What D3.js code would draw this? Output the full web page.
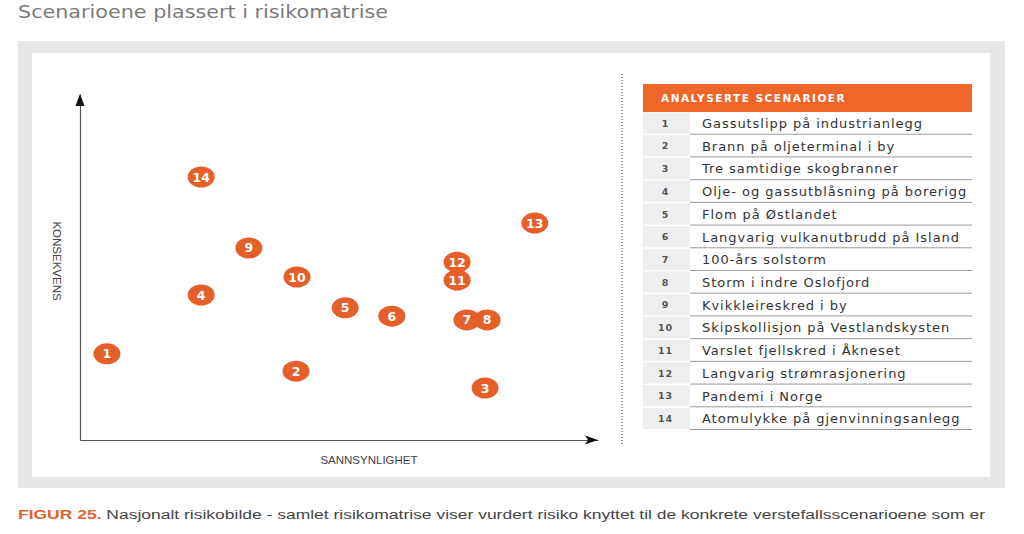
<!DOCTYPE html>
<html>
<head>
<meta charset="utf-8">
<script src="https://cdn.jsdelivr.net/npm/d3@7"></script>
<style>
  html, body { margin: 0; padding: 0; background: #fff; }
  svg { display: block; }
</style>
</head>
<body>
<svg id="chart" width="1024" height="534"></svg>
<script>
const ids = [1,2,3,4,5,6,7,8,9,10,11,12,13,14];
const names = [
  "Gassutslipp på industrianlegg",
  "Brann på oljeterminal i by",
  "Tre samtidige skogbranner",
  "Olje- og gassutblåsning på borerigg",
  "Flom på Østlandet",
  "Langvarig vulkanutbrudd på Island",
  "100-års solstorm",
  "Storm i indre Oslofjord",
  "Kvikkleireskred i by",
  "Skipskollisjon på Vestlandskysten",
  "Varslet fjellskred i Åkneset",
  "Langvarig strømrasjonering",
  "Pandemi i Norge",
  "Atomulykke på gjenvinningsanlegg"
];
// sannsynlighet (x) and konsekvens (y), 0-100 relative scale
const likelihood = [5.2, 41.7, 78.2, 23.4, 51.2, 60.2, 74.7, 78.6, 32.6, 41.9, 72.8, 72.8, 87.8, 23.4];
const consequence = [24.9, 19.9, 15.0, 41.9, 38.2, 35.8, 34.7, 34.7, 55.5, 47.1, 46.2, 51.4, 62.7, 76.0];

const titleText = "Scenarioene plassert i risikomatrise";
const xLabel = "SANNSYNLIGHET";
const yLabel = "KONSEKVENS";
const tableHeader = "ANALYSERTE SCENARIOER";
const captionLead = "FIGUR 25.";
const captionRest = " Nasjonalt risikobilde - samlet risikomatrise viser vurdert risiko knyttet til de konkrete verstefallsscenarioene som er";

const orange = "#e55f2b";
const svg = d3.select("#chart");

// Title
svg.append("text")
  .attr("x", 18).attr("y", 18)
  .attr("font-family", "DejaVu Sans, sans-serif")
  .attr("font-size", 17)
  .attr("fill", "#7a7a7a")
  .attr("textLength", 370).attr("lengthAdjust", "spacingAndGlyphs")
  .text(titleText);

// Frame
svg.append("rect").attr("x", 18).attr("y", 41).attr("width", 987).attr("height", 447).attr("fill", "#e6e7e8");
svg.append("rect").attr("x", 32).attr("y", 53).attr("width", 958).attr("height", 424).attr("fill", "#ffffff");

// Scales
const x = d3.scaleLinear().domain([0, 100]).range([80, 598]);
const y = d3.scaleLinear().domain([0, 100]).range([440, 94]);

// Axes
const axisColor = "#555";
const gx = svg.append("g").attr("transform", `translate(0,${y(0)})`)
  .call(d3.axisBottom(x).ticks(0).tickSizeOuter(0));
const gy = svg.append("g").attr("transform", `translate(${x(0)},0)`)
  .call(d3.axisLeft(y).ticks(0).tickSizeOuter(0));
[gx, gy].forEach(g => {
  g.select(".domain").attr("stroke", axisColor).attr("stroke-width", 1.2);
  g.selectAll(".tick").remove();
});
// Arrowheads
svg.append("path")
  .attr("d", `M${x(100)},${y(0)} L${x(100)-13},${y(0)-4.5} L${x(100)-10},${y(0)} L${x(100)-13},${y(0)+4.5} Z`)
  .attr("fill", "#111");
svg.append("path")
  .attr("d", `M${x(0)},${y(100)} L${x(0)-4.5},${y(100)+12} L${x(0)+4.5},${y(100)+12} Z`)
  .attr("fill", "#111");

// Axis labels
svg.append("text")
  .attr("x", 369).attr("y", 464)
  .attr("text-anchor", "middle")
  .attr("font-family", "Liberation Sans Narrow, Liberation Sans, sans-serif")
  .attr("font-size", 11.5).attr("fill", "#444")
  .text(xLabel);
svg.append("text")
  .attr("transform", "translate(53,261) rotate(90)")
  .attr("text-anchor", "middle")
  .attr("font-family", "Liberation Sans Narrow, Liberation Sans, sans-serif")
  .attr("font-size", 11.5).attr("fill", "#444")
  .text(yLabel);

// Dotted divider
svg.append("line")
  .attr("x1", 622).attr("x2", 622).attr("y1", 74).attr("y2", 445)
  .attr("stroke", "#333").attr("stroke-width", 1).attr("stroke-dasharray", "1,2");

// Bubbles
const pts = ids.map((id, i) => ({id, x: likelihood[i], y: consequence[i]}));
const bub = svg.append("g").selectAll("g").data(pts).join("g")
  .attr("transform", d => `translate(${x(d.x)},${y(d.y)})`);
bub.append("ellipse").attr("rx", 13.5).attr("ry", 10.5).attr("fill", orange);
bub.append("text")
  .attr("text-anchor", "middle").attr("dy", "0.36em")
  .attr("font-family", "DejaVu Sans, sans-serif").attr("font-weight", "bold")
  .attr("font-size", 12.5).attr("fill", "#fff")
  .text(d => d.id);

// Table
const tx0 = 643, tx1 = 972, numW = 47;
svg.append("rect").attr("x", tx0).attr("y", 84).attr("width", tx1 - tx0).attr("height", 28).attr("fill", "#f0662a");
svg.append("text")
  .attr("x", 661).attr("y", 102)
  .attr("font-family", "DejaVu Sans, sans-serif").attr("font-weight", "bold")
  .attr("font-size", 10.5).attr("letter-spacing", 1.5).attr("fill", "#fff")
  .text(tableHeader);

const rowY = d3.scaleBand().domain(ids).range([112, 430]);
const rows = svg.append("g").selectAll("g").data(ids.map((id, i) => ({id, name: names[i]}))).join("g")
  .attr("transform", d => `translate(0,${rowY(d.id)})`);
rows.append("rect")
  .attr("x", tx0).attr("y", 0.5).attr("width", numW).attr("height", rowY.bandwidth() - 1.5)
  .attr("fill", "#eeeef0");
rows.append("line")
  .attr("x1", tx0 + numW).attr("x2", tx1)
  .attr("y1", rowY.bandwidth() - 0.5).attr("y2", rowY.bandwidth() - 0.5)
  .attr("stroke", "#9a9a9a").attr("stroke-width", 1);
rows.append("text")
  .attr("x", tx0 + numW / 2 - 1).attr("y", rowY.bandwidth() / 2).attr("dy", "0.36em")
  .attr("text-anchor", "middle")
  .attr("font-family", "DejaVu Sans, sans-serif").attr("font-weight", "bold")
  .attr("font-size", 9.5).attr("letter-spacing", 0.8).attr("fill", "#555")
  .text(d => d.id);
rows.append("text")
  .attr("x", 702).attr("y", rowY.bandwidth() / 2).attr("dy", "0.36em")
  .attr("font-family", "DejaVu Sans, sans-serif")
  .attr("font-size", 13).attr("letter-spacing", 0.95).attr("fill", "#333")
  .text(d => d.name);

// Caption
const cap = svg.append("text")
  .attr("x", 18).attr("y", 519)
  .attr("font-family", "Liberation Sans Narrow, Liberation Sans, sans-serif")
  .attr("font-size", 12.5)
  .attr("textLength", 967).attr("lengthAdjust", "spacingAndGlyphs");
cap.append("tspan").attr("fill", orange).attr("font-weight", "bold").text(captionLead);
cap.append("tspan").attr("fill", "#444").text(captionRest);
</script>
</body>
</html>
